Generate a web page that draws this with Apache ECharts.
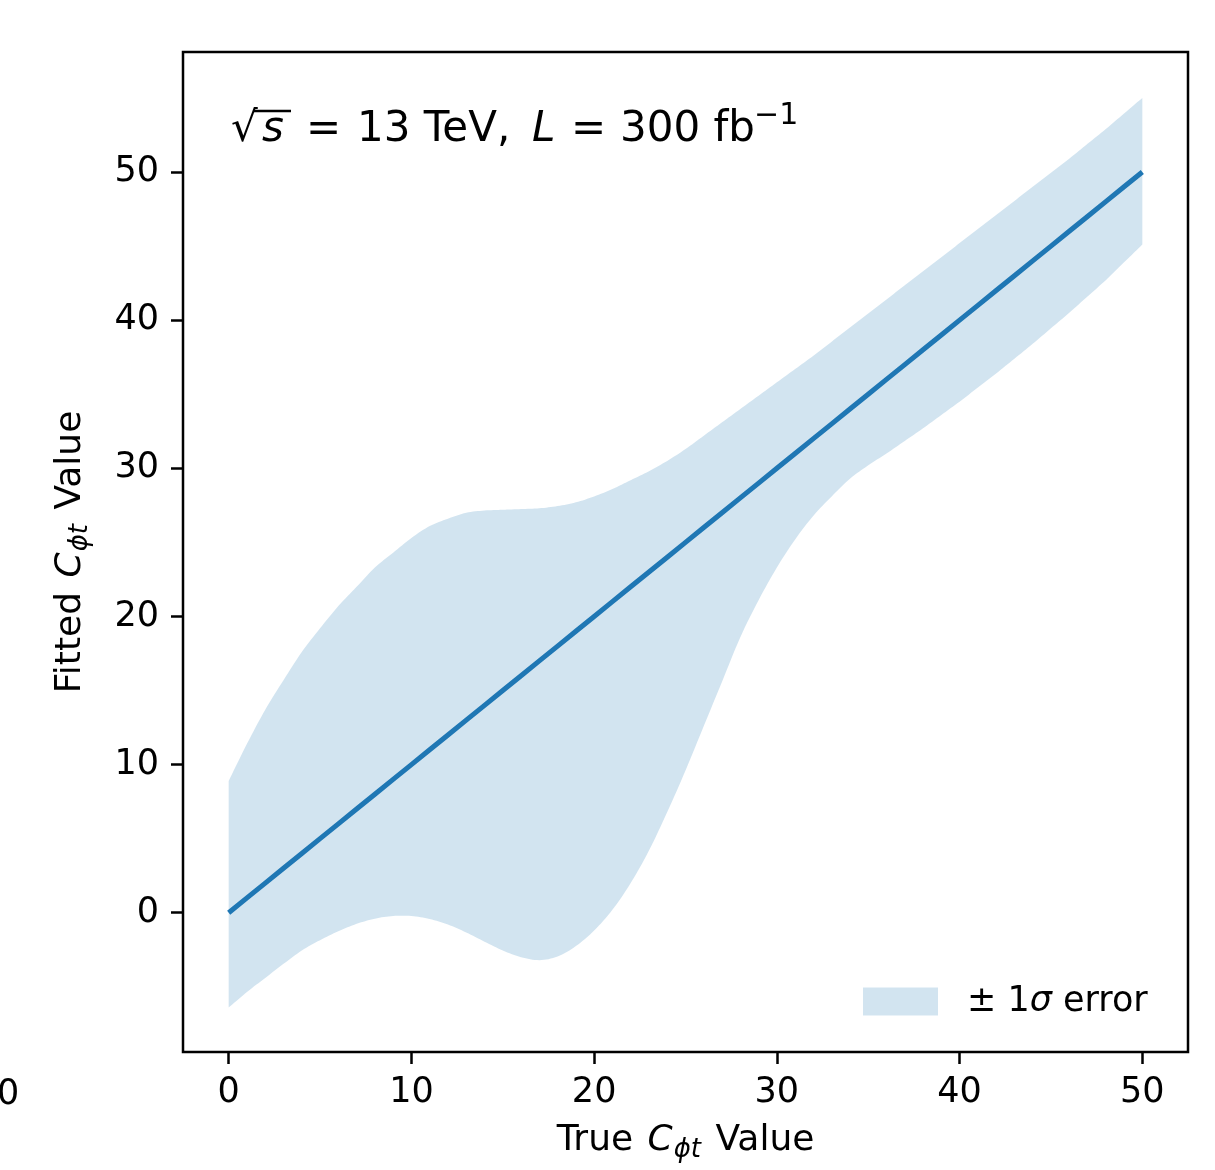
<!DOCTYPE html>
<html><head><meta charset="utf-8">
<script src="https://cdn.jsdelivr.net/npm/echarts@6/dist/echarts.min.js"></script>
<style>html,body{margin:0;padding:0;background:#fff}#c{width:1215px;height:1170px}</style>
</head><body><div id="c"></div>
<script>
// True C_phi_t values (x)
const trueValues = [0,1,2,3,4,5,6,7,8,9,10,11,12,13,14,15,16,17,18,19,20,21,22,23,24,25,26,27,28,29,30,31,32,33,34,35,36,37,38,39,40,41,42,43,44,45,46,47,48,49,50];
// Fitted central values
const fittedValues = [0,1,2,3,4,5,6,7,8,9,10,11,12,13,14,15,16,17,18,19,20,21,22,23,24,25,26,27,28,29,30,31,32,33,34,35,36,37,38,39,40,41,42,43,44,45,46,47,48,49,50];
// +1 sigma edge
const bandUpper = [8.9,11.4,13.7,15.7,17.6,19.2,20.7,22.0,23.3,24.3,25.3,26.1,26.6,27.0,27.15,27.2,27.25,27.3,27.45,27.7,28.1,28.6,29.2,29.8,30.5,31.3,32.2,33.1,34.0,34.9,35.8,36.7,37.6,38.55,39.5,40.45,41.4,42.35,43.3,44.25,45.2,46.15,47.1,48.05,49.0,49.95,50.9,51.9,52.9,53.95,55.0];
// -1 sigma edge
const bandLower = [-6.4,-5.35,-4.4,-3.45,-2.55,-1.85,-1.25,-0.75,-0.4,-0.22,-0.22,-0.42,-0.8,-1.33,-1.95,-2.55,-3.0,-3.2,-2.95,-2.25,-1.2,0.2,2.0,4.2,6.8,9.6,12.6,15.6,18.6,21.1,23.3,25.2,26.8,28.1,29.3,30.2,31.0,31.85,32.7,33.6,34.5,35.45,36.4,37.4,38.4,39.45,40.5,41.6,42.7,43.9,45.1];
const xTicks = [0,10,20,30,40,50];
const yTicks = [0,10,20,30,40,50];
const bandName = '± 1σ error';
const lineName = 'Fit';

const FONT = 'DejaVu Sans';
const bandColor = 'rgba(31,119,180,0.2)';
const chart = echarts.init(document.getElementById('c'), null, {renderer:'canvas'});

const bandData = trueValues.map((x,i)=>[x, bandLower[i], bandUpper[i]]);
const lineData = trueValues.map((x,i)=>[x, fittedValues[i]]);

// Catmull-Rom sampling of pixel points (rendering only)
function smoothPts(p) {
  const out = [];
  const n = p.length;
  for (let i = 0; i < n - 1; i++) {
    const p0 = p[Math.max(i-1,0)], p1 = p[i], p2 = p[i+1], p3 = p[Math.min(i+2,n-1)];
    const steps = 8;
    for (let s = 0; s < steps; s++) {
      const t = s / steps, t2 = t*t, t3 = t2*t;
      const f = (a,b,c,d) => 0.5*((2*b) + (-a + c)*t + (2*a - 5*b + 4*c - d)*t2 + (-a + 3*b - 3*c + d)*t3);
      out.push([f(p0[0],p1[0],p2[0],p3[0]), f(p0[1],p1[1],p2[1],p3[1])]);
    }
  }
  out.push(p[n-1]);
  return out;
}

const nameRich = {
  i:{fontFamily:FONT, fontStyle:'italic', fontSize:36, color:'#000', lineHeight:44, padding:[0,1,0,3]},
  s:{fontFamily:FONT, fontStyle:'italic', fontSize:26, color:'#000', lineHeight:20, verticalAlign:'bottom', padding:[0,3,0,0]},
  n:{fontFamily:FONT, fontSize:36, color:'#000', lineHeight:44}
};
const big = '42px "DejaVu Sans"';
const bigI = 'italic 42px "DejaVu Sans"';

chart.setOption({
  animation:false,
  backgroundColor:'#fff',
  grid:{left:183, top:52, width:1005, height:1000, show:true, borderColor:'#000', borderWidth:2.5, backgroundColor:'transparent', containLabel:false},
  xAxis:{
    type:'value', min:-2.5, max:52.5,
    axisLine:{show:false, onZero:false},
    splitLine:{show:false},
    axisTick:{show:true, customValues:xTicks, length:12, lineStyle:{color:'#000', width:2.5}},
    axisLabel:{customValues:xTicks, fontFamily:FONT, fontSize:35, color:'#000', margin:23},
    name:'{n|True }{i|C}{s|ϕt}{n| Value}', nameLocation:'middle', nameGap:67,
    nameTextStyle:{fontFamily:FONT, fontSize:36, color:'#000', rich:nameRich}
  },
  yAxis:{
    type:'value', min:-9.4, max:58.1,
    axisLine:{show:false, onZero:false},
    splitLine:{show:false},
    axisTick:{show:true, customValues:yTicks, length:12, lineStyle:{color:'#000', width:2.5}},
    axisLabel:{customValues:yTicks, fontFamily:FONT, fontSize:35, color:'#000', margin:24},
    name:'{n|Fitted }{i|C}{s|ϕt}{n| Value}', nameLocation:'middle', nameGap:90, nameRotate:90,
    nameTextStyle:{fontFamily:FONT, fontSize:36, color:'#000', rich:nameRich}
  },
  legend:{
    left:858, top:979, itemWidth:75, itemHeight:28, icon:'rect',
    data:[{name:bandName, icon:'rect', itemStyle:{color:bandColor, opacity:1}}],
    formatter:function(){ return '{n|± 1}{i|σ}{n| error}'; },
    textStyle:{fontFamily:FONT, fontSize:35, color:'#000', padding:[0,0,0,24],
      rich:{n:{fontFamily:FONT, fontSize:35, color:'#000'}, i:{fontFamily:FONT, fontSize:35, fontStyle:'italic', color:'#000'}}}
  },
  graphic:[
    {type:'text', z:10, style:{x:231, y:130, verticalAlign:'middle', text:'√', font:big, fill:'#000'}},
    {type:'text', z:10, style:{x:262, y:130, verticalAlign:'middle', text:'s', font:bigI, fill:'#000'}},
    {type:'line', z:10, shape:{x1:254, y1:111, x2:291, y2:111}, style:{stroke:'#000', lineWidth:2.5}},
    {type:'text', z:10, style:{x:306, y:130, verticalAlign:'middle', text:'=', font:big, fill:'#000'}},
    {type:'text', z:10, style:{x:357, y:130, verticalAlign:'middle', text:'13 TeV,', font:big, fill:'#000'}},
    {type:'text', z:10, style:{x:532, y:130, verticalAlign:'middle', text:'L', font:bigI, fill:'#000'}},
    {type:'text', z:10, style:{x:571, y:130, verticalAlign:'middle', text:'=', font:big, fill:'#000'}},
    {type:'text', z:10, style:{x:620, y:130, verticalAlign:'middle', text:'300 fb', font:big, fill:'#000'}},
    {type:'text', z:10, style:{x:754, y:116, verticalAlign:'middle', text:'−1', font:'30px "DejaVu Sans"', fill:'#000'}},
    {type:'text', z:10, style:{x:-3, y:1095, verticalAlign:'middle', text:'0', font:'35px "DejaVu Sans"', fill:'#000'}}
  ],
  series:[
    {
      type:'custom', name:bandName, z:1,
      itemStyle:{color:bandColor},
      data:bandData,
      encode:{x:0, y:[1,2]},
      renderItem:function(params, api){
        if (params.dataIndex !== 0) return null;
        const up = [], lo = [];
        for (let i=0;i<trueValues.length;i++) {
          up.push(api.coord([trueValues[i], bandUpper[i]]));
          lo.push(api.coord([trueValues[i], bandLower[i]]));
        }
        const pts = smoothPts(up).concat(smoothPts(lo).reverse());
        return {type:'polygon', shape:{points:pts}, style:{fill:bandColor}, silent:true};
      }
    },
    {
      type:'line', name:lineName, z:3, data:lineData, showSymbol:false, symbol:'none',
      lineStyle:{color:'#1f77b4', width:5}, itemStyle:{color:'#1f77b4'}
    }
  ]
});
</script>
</body></html>
